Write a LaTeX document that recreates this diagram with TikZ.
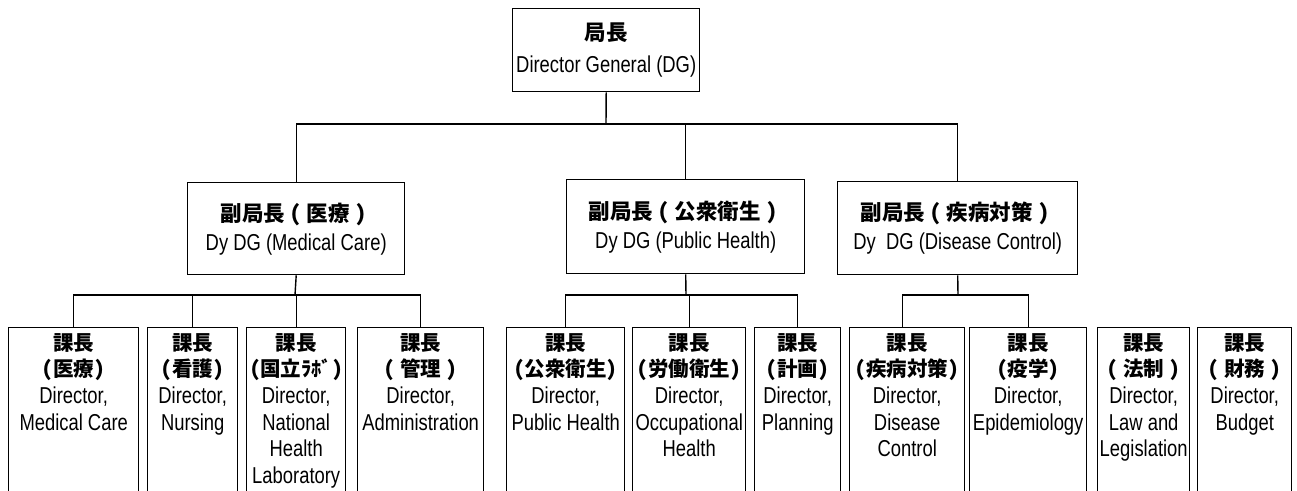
\documentclass[tikz,border=0pt]{standalone}
\usepackage{fontspec}
\setmainfont{Liberation Sans}[FakeStretch=0.8]
\newfontfamily\cjk{Noto Sans CJK JP}
\newfontfamily\cjkh{Noto Sans CJK JP}[RawFeature=+hwid]
\newcommand\jpt[2][20.5]{{\cjk\bfseries\fontsize{#1}{#1}\selectfont #2}}
\newcommand\jph[2][20.5]{{\cjkh\bfseries\fontsize{#1}{#1}\selectfont #2}}
\newcommand\fwl{\kern0.25em(\kern0.25em}
\newcommand\fwr{\kern0.25em)\kern0.25em}
\begin{document}
\begin{tikzpicture}[x=1pt,y=-1pt,
  box/.style={draw, line width=1.4pt, inner sep=0pt},
  head/.style={box, align=center, anchor=north west},
  unit/.style={box, minimum height=200pt, anchor=north west},
  utext/.style={align=center, inner sep=0pt, anchor=north, font=\fontsize{23}{26.7}\selectfont},
  wire/.style={line width=1.4pt}]
\useasboundingbox (0,0) rectangle (1297,490);
\clip (0,0) rectangle (1297,490);
% top
\node[head, minimum width=187pt, minimum height=83pt, font=\fontsize{23}{32}\selectfont] (dg) at (512,8) {\jpt[21.5]{局長}\\Director General (DG)};
% deputies
\node[head, minimum width=217pt, minimum height=92pt, font=\fontsize{23}{29}\selectfont] (med) at (187,182) {\jph[21.5]{副局長\fwl 医療\fwr}\\Dy DG (Medical Care)};
\node[head, minimum width=238pt, minimum height=94pt, font=\fontsize{23}{29}\selectfont] (pub) at (566,179) {\jph[21.5]{副局長\fwl 公衆衛生\fwr}\\Dy DG (Public Health)};
\node[head, minimum width=240pt, minimum height=93pt, font=\fontsize{23}{29}\selectfont] (dis) at (837,181) {\jph[21.5]{副局長\fwl 疾病対策\fwr}\\Dy\ \ DG (Disease Control)};
% units
\node[unit, minimum width=130pt] (b1) at (8,327) {};
\node[unit, minimum width=90pt] (b2) at (147,327) {};
\node[unit, minimum width=99pt] (b3) at (246,327) {};
\node[unit, minimum width=126pt] (b4) at (357,327) {};
\node[unit, minimum width=118pt] (b5) at (506,327) {};
\node[unit, minimum width=113pt] (b6) at (632,327) {};
\node[unit, minimum width=86pt] (b7) at (754,327) {};
\node[unit, minimum width=115pt] (b8) at (849,327) {};
\node[unit, minimum width=117pt] (b9) at (969,327) {};
\node[unit, minimum width=92pt] (b10) at (1097,327) {};
\node[unit, minimum width=94pt] (b11) at (1197,327) {};
% unit texts
\node[utext] (t1) at ([yshift=-6pt]b1.north) {\jpt{課長}\\\jph{(医療)}\\Director,\\Medical Care};
\node[utext] (t2) at ([yshift=-6pt]b2.north) {\jpt{課長}\\\jph{(看護)}\\Director,\\Nursing};
\node[utext] (t3) at ([yshift=-6pt]b3.north) {\jpt{課長}\\\jph{(国立ﾗﾎﾞ)}\\Director,\\National\\Health\\Laboratory};
\node[utext] (t4) at ([yshift=-6pt]b4.north) {\jpt{課長}\\\jph{\fwl 管理\fwr}\\Director,\\Administration};
\node[utext] (t5) at ([yshift=-6pt]b5.north) {\jpt{課長}\\\jph{(公衆衛生)}\\Director,\\Public Health};
\node[utext] (t6) at ([yshift=-6pt]b6.north) {\jpt{課長}\\\jph{(労働衛生)}\\Director,\\Occupational\\Health};
\node[utext] (t7) at ([yshift=-6pt]b7.north) {\jpt{課長}\\\jph{(計画)}\\Director,\\Planning};
\node[utext] (t8) at ([yshift=-6pt]b8.north) {\jpt{課長}\\\jph{(疾病対策)}\\Director,\\Disease\\Control};
\node[utext] (t9) at ([yshift=-6pt]b9.north) {\jpt{課長}\\\jph{(疫学)}\\Director,\\Epidemiology};
\node[utext] (t10) at ([yshift=-6pt]b10.north) {\jpt{課長}\\\jph{\fwl 法制\fwr}\\Director,\\Law and\\Legislation};
\node[utext] (t11) at ([yshift=-6pt]b11.north) {\jpt{課長}\\\jph{\fwl 財務\fwr}\\Director,\\Budget};
% buses
\coordinate (busA) at (606,124);
\coordinate (busM) at (295,295);
\coordinate (busP) at (686,295);
\coordinate (busD) at (958,295);
% connectors
\draw[wire] (dg.south) -- (busA);
\draw[wire] (med.north) |- (busA) -| (dis.north);
\draw[wire] (pub.north) |- (busA);
\draw[wire] (med.south) -- (busM);
\draw[wire] (b1.north) |- (busM) -| (b4.north);
\draw[wire] (b2.north) |- (busM);
\draw[wire] (b3.north) |- (busM);
\draw[wire] (pub.south) -- (busP);
\draw[wire] (b5.north) |- (busP) -| (b7.north);
\draw[wire] (b6.north) |- (busP);
\draw[wire] (dis.south) -- (busD);
\draw[wire] ([xshift=-5pt]b8.north) |- (busD) -| (b9.north);
\end{tikzpicture}
\end{document}
